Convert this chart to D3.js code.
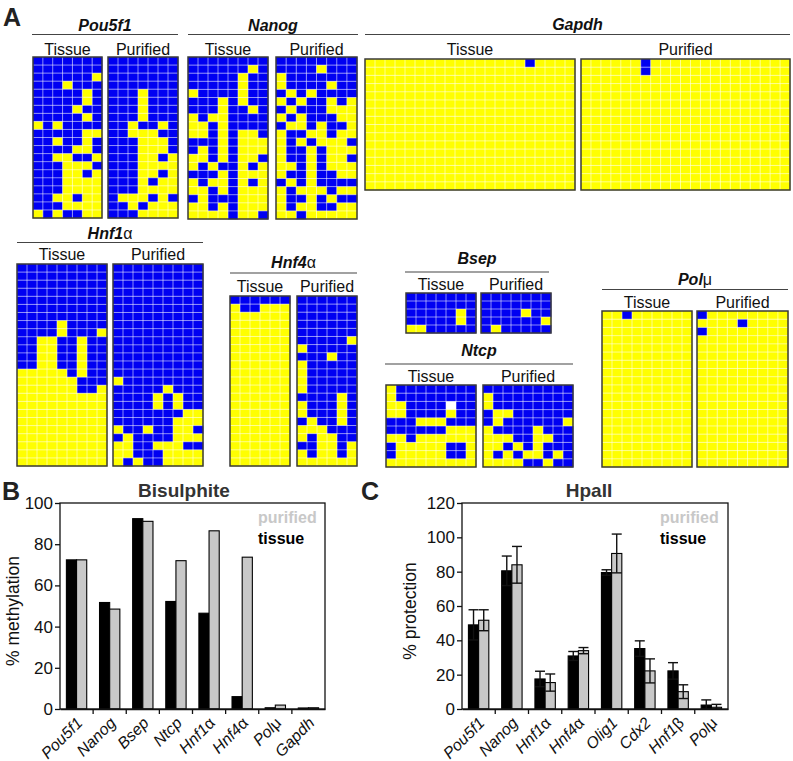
<!DOCTYPE html>
<html><head><meta charset="utf-8">
<script src="https://cdn.jsdelivr.net/npm/d3@7"></script>
<style>
body{margin:0;background:#fff;}
svg{display:block;font-family:"Liberation Sans",Arial,sans-serif;}
</style></head>
<body><svg id="fig" width="793" height="761"></svg>
<script>
// ---------------- DATA ----------------
// Bisulphite clone grids: "1" = methylated CpG (blue), "0" = unmethylated (yellow), "-" = not determined
const pou5f1Tissue = ["1111111","1111111","1111110","1110111","1111101","1111101","1111011","1111101","0101111","1111100","1101101","1111001","1100110","1110001","1110010","1110000","1110000","1100100","1110000","0101100"];
const pou5f1Purified = ["1111111","1111111","1111111","1111111","1110111","1110111","1110111","1110111","1101101","1100011","1110001","1110001","1110010","1110000","1110010","1110100","1110000","1000101","1101000","1110000"];
const nanogTissue = ["11111111","11111101","11111011","11111011","01111011","11101011","11101101","01001111","00101111","00101001","11101000","10101000","00101001","01011010","11101000","01001010","00101000","10111000","00101000","00001001"];
const nanogPurified = ["11111111","11110111","01111111","01111011","10101111","01011010","10111000","01011100","10010110","01100100","01010001","01101000","01101001","00101000","01101100","10101111","01000100","01101011","01001100","00100000"];
const gapdhTissue = ["000000000000000010000","000000000000000000000","000000000000000000000","000000000000000000000","000000000000000000000","000000000000000000000","000000000000000000000","000000000000000000000","000000000000000000000","000000000000000000000","000000000000000000000","000000000000000000000","000000000000000000000","000000000000000000000","000000000000000000000","000000000000000000000"];
const gapdhPurified = ["000000100000000000000","000000100000000000000","000000000000000000000","000000000000000000000","000000000000000000000","000000000000000000000","000000000000000000000","000000000000000000000","000000000000000000000","000000000000000000000","000000000000000000000","000000000000000000000","000000000000000000000","000000000000000000000","000000000000000000000","000000000000000000000"];
const hnf1aTissue = ["111111111","111111111","111111111","111111111","111111111","111111111","111111111","111101111","111101110","110011011","110011011","110011011","110011011","000001011","000000111","000000110","000000000","000000000","000000000","000000000","000000000","000000000","000000000","000000000","000000000"];
const hnf1aPurified = ["111111111","111111111","111111111","111111111","111111111","111111111","111111111","111111111","111111111","111111111","111111111","111111111","111111111","111111111","011111111","111110111","111101011","111101011","111111100","111111000","011011001","101111000","001100011","001110000","010110000"];
const hnf4aTissue = ["111111","011000","000000","000000","000000","000000","000000","000000","000000","000000","000000","000000","000000","000000","000000","000000","000000","000000","000000","000000","000000"];
const hnf4aPurified = ["111111","111111","111111","111111","111111","111110","011111","111011","011111","011111","011111","011111","111101","011101","011101","101101","000111","010011","110010","010010","000000"];
const bsepTissue = ["1111111","1111111","1111101","1111101","0011111"];
const bsepPurified = ["1111111","1111111","1111011","1111110","1011111"];
const ntcpTissue = ["011111111","011111111","001111-11","001111011","111000111","111111000","001000000","100000110","100000110","000000000"];
const ntcpPurified = ["111111111","011111111","011111111","100111111","101111110","011110111","000110011","001010111","010100101","000011011"];
const polmTissue = ["001000000","000000000","000000000","000000000","000000000","000000000","000000000","000000000","000000000","000000000","000000000","000000000","000000000","000000000","000000000","000000000","000000000","000000000","000000000"];
const polmPurified = ["100000000","000010000","100000000","000000000","000000000","000000000","000000000","000000000","000000000","000000000","000000000","000000000","000000000","000000000","000000000","000000000","000000000","000000000","000000000"];

// Panel B: bisulphite % methylation
const bisCategories = ["Pou5f1","Nanog","Bsep","Ntcp","Hnf1α","Hnf4α","Polμ","Gapdh"];
const bisTissue   = [72.4, 51.7, 92.4, 52.2, 46.5, 6.0, 0.6, 0.5];
const bisPurified = [72.4, 48.5, 91.1, 72.0, 86.5, 73.7, 1.9, 0.6];
const bisTicks = [0, 20, 40, 60, 80, 100];

// Panel C: HpaII % protection (mean, error)
const hpaCategories = ["Pou5f1","Nanog","Hnf1α","Hnf4α","Olig1","Cdx2","Hnf1β","Polμ"];
const hpaTissue      = [49.0, 80.5, 17.5, 30.9, 79.5, 35.2, 22.2, 2.3];
const hpaTissueErr   = [8.8, 8.6, 4.5, 2.6, 1.6, 4.5, 4.8, 3.0];
const hpaPurified    = [51.7, 84.0, 15.4, 34.0, 90.6, 22.2, 10.1, 1.0];
const hpaPurifiedErr = [6.1, 10.7, 5.0, 1.8, 11.3, 7.0, 4.0, 1.7];
const hpaTicks = [0, 20, 40, 60, 80, 100, 120];

const seriesNames = ["tissue", "purified"];
const subLabels = ["Tissue", "Purified"];

// ---------------- STYLE / LAYOUT ----------------
const BLUE = "#0000f2", YELLOW = "#ffff00";
const BLACK = "#000", GREY = "#c8c8c8";
const svg = d3.select("#fig");
svg.append("rect").attr("width",793).attr("height",761).attr("fill","#fff");

function geneText(sel, label, weight) {
  const m = label.match(/^(.*?)([αβμ])$/);
  const base = m ? m[1] : label;
  sel.append("tspan").attr("font-style","italic").attr("font-weight",weight).text(base);
  if (m) sel.append("tspan").attr("font-style","normal").attr("font-weight","normal").text(m[2]);
}

function drawGrid(g, rows, box) {
  const nr = rows.length, nc = rows[0].length;
  const x = d3.scaleBand().domain(d3.range(nc)).range([box.x0, box.x1]);
  const y = d3.scaleBand().domain(d3.range(nr)).range([box.y0, box.y1]);
  const cells = rows.flatMap((r, i) => r.split("").map((v, j) => ({i, j, v})));
  g.append("g").selectAll("rect").data(cells).join("rect")
    .attr("x", d => x(d.j)).attr("y", d => y(d.i))
    .attr("width", x.bandwidth() + 0.3).attr("height", y.bandwidth() + 0.3)
    .attr("fill", d => d.v === "1" ? BLUE : d.v === "0" ? YELLOW : "#fff");
  const gl = g.append("g").attr("stroke", "rgba(255,255,255,0.6)").attr("stroke-width", 0.9);
  gl.selectAll(".v").data(d3.range(1, nc)).join("line").attr("class","v")
    .attr("x1", j => x(j)).attr("x2", j => x(j)).attr("y1", box.y0).attr("y2", box.y1);
  gl.selectAll(".h").data(d3.range(1, nr)).join("line").attr("class","h")
    .attr("y1", i => y(i)).attr("y2", i => y(i)).attr("x1", box.x0).attr("x2", box.x1);
  g.append("rect").attr("x", box.x0).attr("y", box.y0)
    .attr("width", box.x1 - box.x0).attr("height", box.y1 - box.y0)
    .attr("fill", "none").attr("stroke", "#3a3a3a").attr("stroke-width", 1.5);
}

// Panel A layout: each gene has a header and two grids (tissue, purified)
const panelA = [
  {name:"Pou5f1", data:[pou5f1Tissue, pou5f1Purified], nameY:31, lineY:34.5, subY:54.5, lx:[32,178],
   boxes:[{x0:33,x1:102,y0:57,y1:218},{x0:108,x1:178,y0:57,y1:218}]},
  {name:"Nanog", data:[nanogTissue, nanogPurified], nameY:31, lineY:34.5, subY:54.5, lx:[188,358],
   boxes:[{x0:188,x1:268,y0:57,y1:219},{x0:276,x1:357,y0:57,y1:219}]},
  {name:"Gapdh", data:[gapdhTissue, gapdhPurified], nameY:30, lineY:34.5, subY:54.5, lx:[365,790],
   boxes:[{x0:365,x1:575,y0:59,y1:190},{x0:581,x1:790,y0:59,y1:190}]},
  {name:"Hnf1α", data:[hnf1aTissue, hnf1aPurified], nameY:239, lineY:242.5, subY:259.5, lx:[17,203],
   boxes:[{x0:17,x1:107,y0:264,y1:466},{x0:113,x1:203,y0:264,y1:466}]},
  {name:"Hnf4α", data:[hnf4aTissue, hnf4aPurified], nameY:268, lineY:273, subY:291.5, lx:[230,357],
   boxes:[{x0:230,x1:290,y0:296,y1:466},{x0:297,x1:357,y0:296,y1:466}]},
  {name:"Bsep", data:[bsepTissue, bsepPurified], nameY:264, lineY:272, subY:289.5, lx:[405,549],
   boxes:[{x0:406,x1:476,y0:293,y1:333},{x0:481,x1:551,y0:293,y1:333}]},
  {name:"Ntcp", data:[ntcpTissue, ntcpPurified], nameY:356, lineY:364, subY:382, lx:[385,573],
   boxes:[{x0:386,x1:476,y0:385,y1:467},{x0:483,x1:573,y0:385,y1:467}]},
  {name:"Polμ", data:[polmTissue, polmPurified], nameY:285, lineY:289.5, subY:307.5, lx:[602,788],
   boxes:[{x0:602,x1:692,y0:311,y1:467},{x0:697,x1:788,y0:311,y1:467}]}
];

const gA = svg.append("g");
gA.append("text").attr("x", 3).attr("y", 26).attr("font-size", 25).attr("font-weight", "bold").attr("fill","#222").text("A");
panelA.forEach(p => {
  const g = gA.append("g");
  geneText(g.append("text").attr("x", (p.lx[0] + p.lx[1]) / 2).attr("y", p.nameY)
    .attr("text-anchor", "middle").attr("font-size", 16).attr("fill","#111"), p.name, "bold");
  g.append("line").attr("x1", p.lx[0]).attr("x2", p.lx[1]).attr("y1", p.lineY).attr("y2", p.lineY)
    .attr("stroke", "#444").attr("stroke-width", 1.2);
  p.boxes.forEach((b, k) => {
    g.append("text").attr("x", (b.x0 + b.x1) / 2).attr("y", p.subY).attr("text-anchor", "middle")
      .attr("font-size", 16).attr("fill", "#111").text(subLabels[k]);
    drawGrid(g, p.data[k], b);
  });
});

// ---------------- Bar charts ----------------
function barChart(cfg) {
  const g = svg.append("g");
  const x = d3.scaleBand().domain(cfg.cats).range([cfg.x0, cfg.x1]).padding(0);
  const xs = d3.scaleBand().domain(seriesNames).range([0, x.bandwidth()]).paddingInner(0).paddingOuter(0.63);
  const y = d3.scaleLinear().domain([0, cfg.ymax]).range([cfg.y0, cfg.y1]);
  const rows = cfg.cats.map((c, i) => ({c, i}));
  const series = [
    {key:"tissue", vals:cfg.tissue, err:cfg.tErr, fill:BLACK},
    {key:"purified", vals:cfg.purified, err:cfg.pErr, fill:GREY}
  ];
  series.forEach(s => {
    g.append("g").selectAll("rect").data(rows).join("rect")
      .attr("x", d => x(d.c) + xs(s.key)).attr("width", xs.bandwidth())
      .attr("y", d => y(s.vals[d.i])).attr("height", d => y(0) - y(s.vals[d.i]))
      .attr("fill", s.fill).attr("stroke", "#000").attr("stroke-width", 1.1);
    if (s.err) {
      const eg = g.append("g").attr("stroke", "#111").attr("stroke-width", 1.4);
      rows.forEach(d => {
        const cx = x(d.c) + xs(s.key) + xs.bandwidth() / 2;
        const hi = y(s.vals[d.i] + s.err[d.i]), lo = y(Math.max(0, s.vals[d.i] - s.err[d.i]));
        eg.append("line").attr("x1", cx).attr("x2", cx).attr("y1", hi).attr("y2", lo);
        eg.append("line").attr("x1", cx - 5).attr("x2", cx + 5).attr("y1", hi).attr("y2", hi);
        eg.append("line").attr("x1", cx - 5).attr("x2", cx + 5).attr("y1", lo).attr("y2", lo);
      });
    }
  });
  // frame
  g.append("rect").attr("x", cfg.x0).attr("y", cfg.y1).attr("width", cfg.x1 - cfg.x0).attr("height", cfg.y0 - cfg.y1)
    .attr("fill", "none").attr("stroke", "#111").attr("stroke-width", 1.3);
  // y axis
  const ya = g.append("g").attr("transform", `translate(${cfg.x0},0)`)
    .call(d3.axisLeft(y).tickValues(cfg.ticks).tickSize(5).tickPadding(2));
  ya.select(".domain").remove();
  ya.selectAll("line").attr("stroke", "#111").attr("stroke-width", 1.3);
  ya.selectAll("text").attr("font-size", 17).attr("fill", "#111").attr("font-family", "Liberation Sans, Arial, sans-serif");
  // x axis with ticks at category boundaries
  const xa = g.append("g").attr("transform", `translate(0,${cfg.y0})`)
    .call(d3.axisBottom(x).tickSize(0).tickFormat(""));
  xa.select(".domain").attr("stroke", "#111").attr("stroke-width", 1.3);
  g.append("g").selectAll("line").data(cfg.cats.slice(1)).join("line")
    .attr("x1", c => x(c)).attr("x2", c => x(c)).attr("y1", cfg.y0).attr("y2", cfg.y0 + 5)
    .attr("stroke", "#111").attr("stroke-width", 1.3);
  g.append("g").selectAll("text").data(cfg.cats).join("text")
    .attr("transform", c => `translate(${x(c) + x.bandwidth() / 2 + 7},${cfg.y0 + 15}) rotate(-45)`)
    .attr("text-anchor", "end").attr("font-size", 16).attr("fill", "#111")
    .each(function(c) { geneText(d3.select(this), c, "normal"); });
  // y label
  g.append("text").attr("transform", `translate(${cfg.ylabX},${(cfg.y0 + cfg.y1) / 2 + 5}) rotate(-90)`)
    .attr("text-anchor", "middle").attr("dy", "0.35em").attr("font-size", 17.5).attr("fill", "#111").text(cfg.ylabel);
  // title
  g.append("text").attr("x", cfg.titleX).attr("y", 497).attr("text-anchor", "middle")
    .attr("font-size", 19).attr("font-weight", "bold").attr("fill", "#333").text(cfg.title);
  // panel letter
  g.append("text").attr("x", cfg.letterX).attr("y", 500).attr("font-size", 25).attr("font-weight", "bold")
    .attr("fill", "#222").text(cfg.letter);
  // legend
  g.append("text").attr("x", cfg.legX).attr("y", 523).attr("font-size", 16).attr("font-weight", "bold")
    .attr("fill", GREY).text("purified");
  g.append("text").attr("x", cfg.legX).attr("y", 544).attr("font-size", 16).attr("font-weight", "bold")
    .attr("fill", "#000").text("tissue");
}

barChart({cats:bisCategories, tissue:bisTissue, purified:bisPurified, ticks:bisTicks, ymax:100,
  x0:60, x1:325, y0:709, y1:503, ylabX:13, ylabel:"% methylation", title:"Bisulphite", titleX:184,
  letter:"B", letterX:2, legX:258});
barChart({cats:hpaCategories, tissue:hpaTissue, purified:hpaPurified, tErr:hpaTissueErr, pErr:hpaPurifiedErr,
  ticks:hpaTicks, ymax:120, x0:462, x1:728, y0:709, y1:503, ylabX:410, ylabel:"% protection", title:"HpaII", titleX:589,
  letter:"C", letterX:361, legX:660});
</script></body></html>
